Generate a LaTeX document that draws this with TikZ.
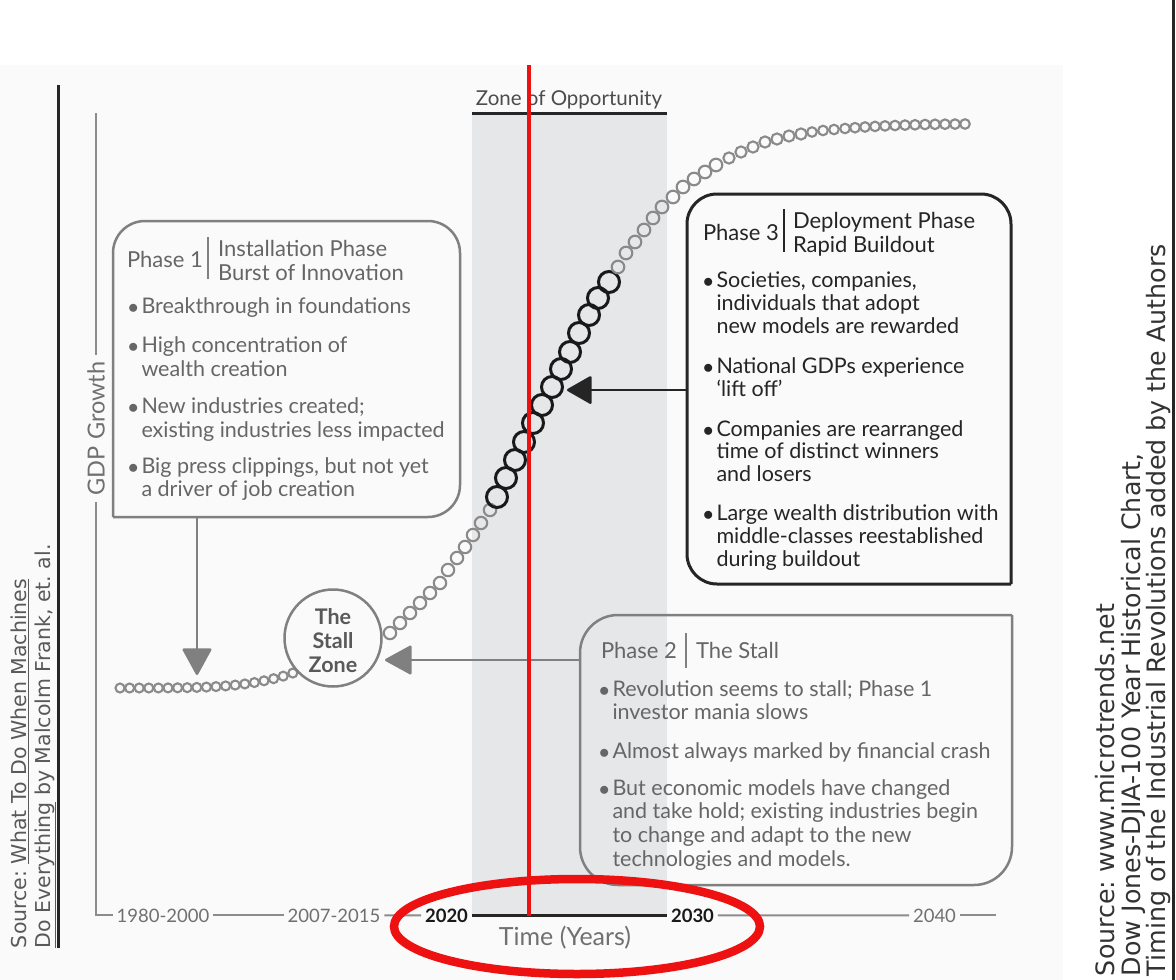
\documentclass[tikz,border=0pt]{standalone}
\usepackage{fontspec}
\setmainfont{Lato}
\newfontfamily\sidefont{DejaVu Sans}
\usetikzlibrary{arrows.meta}
\frenchspacing
\definecolor{midgray}{HTML}{666666}
\definecolor{boxgray}{HTML}{808080}
\definecolor{zonegray}{HTML}{E6E7E9}
\definecolor{dotgray}{HTML}{8A8A8A}
\definecolor{darktxt}{HTML}{252525}
\definecolor{axisgray}{HTML}{8C8C8C}
\definecolor{labgray}{HTML}{707070}
\definecolor{redmark}{HTML}{EE1111}
\definecolor{bgoff}{HTML}{FAFAFA}
\newcommand\mybul{\makebox[13.5pt][l]{$\bullet$}}
\newcommand\myind{\hspace*{13.5pt}}
\begin{document}
\frenchspacing
\begin{tikzpicture}[x=1pt,y=-1pt,
  ln/.style={anchor=base west, inner sep=0pt, outer sep=0pt, font=\fontsize{21.5}{24}\selectfont},
  p1t/.style={ln, text=midgray},
  p3t/.style={ln, text=darktxt},
  hd/.style={anchor=base west, inner sep=0pt, outer sep=0pt, font=\fontsize{22}{26}\selectfont},
  boxarea/.style={inner sep=0pt, outer sep=0pt, minimum width=#1},
  greybox/.style={draw=boxgray, line width=2.5pt, line cap=square},
  blackbox/.style={draw=darktxt, line width=3pt, line cap=square},
  graydot/.style={draw=dotgray, line width=2.1pt},
  blackdot/.style={draw=black!90, line width=3pt},
  axl/.style={anchor=base, inner sep=0pt, outer sep=4pt, text=labgray, font=\fontsize{18.5}{20}\selectfont},
  axb/.style={anchor=base, inner sep=0pt, outer sep=4pt, text=black!90, font=\bfseries\fontsize{18.5}{20}\selectfont},
  axline/.style={draw=axisgray, line width=2pt},
  grayarrow/.style={draw=boxgray, line width=2.5pt, -{Triangle[length=28pt,width=30pt,round]}, fill=boxgray},
  blackarrow/.style={draw=darktxt, line width=2.5pt, -{Triangle[length=26pt,width=29pt,round]}, fill=darktxt},
  sidetxt/.style={rotate=90, anchor=base west, inner sep=0pt, outer sep=0pt}
]
\useasboundingbox (0,0) rectangle (1176,980);
\fill[white] (0,0) rectangle (1176,980);
\fill[bgoff] (0,65) rectangle (1063,980);

% zone of opportunity
\fill[zonegray] (472,113) rectangle (667,916);
\draw[black!85, line width=3pt] (472,113) -- (667,113);
\node[anchor=base, inner sep=0pt, text=black!70, font=\fontsize{20.5}{22}\selectfont] (zonetitle) at (569,105) {Zone of Opportunity};

% side rules
\draw[black!85, line width=3pt] (58.5,85) -- (58.5,948);
\draw[black!85, line width=3.5pt] (1173.5,0) -- (1173.5,980);

% axes
\node[rotate=90, inner sep=0pt, outer sep=7pt, text=labgray, font=\fontsize{23.5}{26}\selectfont] (gdp) at (96,428.5) {GDP Growth};
\node[axl] (t1980) at (163,922) {1980-2000};
\node[axl] (t2007) at (334,922) {2007-2015};
\node[axb] (t2020) at (446.5,922) {2020};
\node[axb] (t2030) at (692.5,922) {2030};
\node[axl] (t2040) at (934.5,922) {2040};
\draw[axline] (96,113) -- (gdp.east);
\draw[axline] (gdp.west) |- (t1980.west);
\draw[axline] (t1980.east) -- (t2007.west);
\draw[axline] (t2007.east) -- (t2020.west);
\draw[black!85, line width=3pt] (t2020.east) -- (t2030.west);
\draw[axline] (t2030.east) -- (t2040.west);
\coordinate (axend) at (996,916);
\draw[axline] (t2040.east) -- (axend |- t2040.east);
\node[anchor=base, inner sep=0pt, text=labgray, font=\fontsize{25}{28}\selectfont] (timelab) at (565,945) {Time (Years)};

% S-curve of rings
\foreach \i in {0,...,18} {
  \pgfmathsetmacro\xx{120+9.6*\i}
  \pgfmathsetmacro\yy{688-15*((\xx-120)/173)^4}
  \draw[graydot] (\xx,\yy) circle (4.5pt);
}
\foreach \p in {(390,633),(400,623),(410,613),(420,603),(430,593),(440,583),(448,570),(457,558),(465,547),(473,535),(481,523),(490,510)}
  \draw[graydot] \p circle (6.2pt);
\foreach \p in {(497,497),(506,478),(515,460),(524,442),(533,423),(542,405),(552,387),(561,369),(570,352),(579,333),(589,315),(598,298),(609,282)}
  \draw[blackdot] \p circle (10.5pt);
\foreach \p in {(618,267),(626,253),(635,242),(644,230),(653,218),(662,207),(673,197),(683,187),(694,179),(705,172),(716,165)}
  \draw[graydot] \p circle (6.3pt);
\foreach \p in {(729,158),(741,152),(753,147),(765,142),(777,139),(789,136),(801,134)}
  \draw[graydot] \p circle (5.6pt);
\foreach \p in {(812,132),(823,130.5),(834,129.5),(845,128.5),(855,127.7),(865,127),(875,126.4),(885,125.9),(895,125.5),(905,125.1),(915,124.8),(925,124.5),(935,124.3),(945,124.2),(955,124.1),(965,124)}
  \draw[graydot] \p circle (4.8pt);

% stall zone
\node[circle, draw=boxgray, line width=2.5pt, minimum size=97pt, inner sep=0pt] (stall) at (333,638) {};
\node[align=center, inner sep=0pt, text=black!65, font=\bfseries\fontsize{21.5}{24}\selectfont] (stalltxt) at (333,641) {The\\Stall\\Zone};

% Phase 1 box
\node[boxarea=347pt, minimum height=296pt] (p1) at (286.5,369) {};
\draw[greybox, rounded corners=32pt] (p1.south west) -- (p1.north west) -- (p1.north east) -- (p1.south east) -- (p1.south west);
\node[hd, text=midgray] (p1h) at (127,267) {Phase 1};
\draw[boxgray, line width=2pt] (208,237) -- (208,279);
\node[hd, text=midgray] (p1ha) at (218,256) {Installation Phase};
\node[hd, text=midgray] (p1hb) at (218,280) {Burst of Innovation};
\foreach \yy/\txt [count=\i] in {313/{\mybul Breakthrough in foundations},352/{\mybul High concentration of},376/{\myind wealth creation},413/{\mybul New industries created;},437/{\myind existing industries less impacted},473/{\mybul Big press clippings, but not yet},496/{\myind a driver of job creation}}
  \node[p1t] (p1l\i) at (128,\yy) {\txt};

% Phase 3 box
\node[boxarea=324pt, minimum height=390pt] (p3) at (849,389) {};
\draw[blackbox, rounded corners=30pt] (p3.south east) -- (p3.south west) -- (p3.north west) -- (p3.north east) -- (p3.south east);
\node[hd, text=darktxt] (p3h) at (703,240) {Phase 3};
\draw[darktxt, line width=2.5pt] (784,209) -- (784,252);
\node[hd, text=darktxt] (p3ha) at (793,228) {Deployment Phase};
\node[hd, text=darktxt] (p3hb) at (793,252) {Rapid Buildout};
\foreach \yy/\txt [count=\i] in {287/{\mybul Societies, companies,},310/{\myind individuals that adopt},333/{\myind new models are rewarded},373/{\mybul National GDPs experience},396/{\myind ‘lift off’},436/{\mybul Companies are rearranged},458/{\myind time of distinct winners},481/{\myind and losers},520/{\mybul Large wealth distribution with},543/{\myind middle-classes reestablished},566/{\myind during buildout}}
  \node[p3t] (p3l\i) at (703,\yy) {\txt};

% Phase 2 box
\node[boxarea=432pt, minimum height=270pt] (p2) at (796,750) {};
\draw[greybox, rounded corners=38pt] (p2.north east) -- (p2.south east) -- (p2.south west) -- (p2.north west) -- (p2.north east);
\node[hd, text=midgray] (p2h) at (601,658) {Phase 2};
\draw[boxgray, line width=2pt] (686,633) -- (686,668);
\node[hd, text=midgray] (p2ha) at (696,658) {The Stall};
\foreach \yy/\txt [count=\i] in {696/{\mybul Revolution seems to stall; Phase 1},719/{\myind investor mania slows},758/{\mybul Almost always marked by financial crash},795/{\mybul But economic models have changed},818/{\myind and take hold; existing industries begin},842/{\myind to change and adapt to the new},866/{\myind technologies and models.}}
  \node[p1t] (p2l\i) at (599,\yy) {\txt};

% arrows
\coordinate (p1tip) at (197,675);
\coordinate (p2tip) at (385,660);
\coordinate (p3tip) at (567,390);
\draw[grayarrow] (p1tip |- p1.south) -- (p1tip);
\draw[grayarrow] (p2tip -| p2.west) -- (p2tip);
\draw[blackarrow] (p3tip -| p3.west) -- (p3tip);

% side source texts
\node[sidetxt, text=black!65, font=\sidefont\fontsize{20.5}{23}\selectfont] (srcl1) at (27,948) {Source: \underline{What To Do When Machines}};
\node[sidetxt, text=black!65, font=\sidefont\fontsize{20.5}{23}\selectfont] (srcl2) at (50,948) {\underline{Do Everything} by Malcolm Frank, et. al.};
\node[sidetxt, text=black!80, font=\sidefont\fontsize{25.3}{28}\selectfont] (srcr1) at (1114,976) {Source: www.microtrends.net};
\node[sidetxt, text=black!80, font=\sidefont\fontsize{25.3}{28}\selectfont] (srcr2) at (1140,976) {Dow Jones-DJIA-100 Year Historical Chart,};
\node[sidetxt, text=black!80, font=\sidefont\fontsize{25.3}{28}\selectfont] (srcr3) at (1165,976) {Timing of the Industrial Revolutions added by the Authors};

% red annotations
\draw[redmark, line width=3.5pt] (529,65) -- (529,916);
\draw[redmark, line width=8.5pt] (577,926.5) ellipse [x radius=183pt, y radius=47.5pt];
\end{tikzpicture}
\end{document}
